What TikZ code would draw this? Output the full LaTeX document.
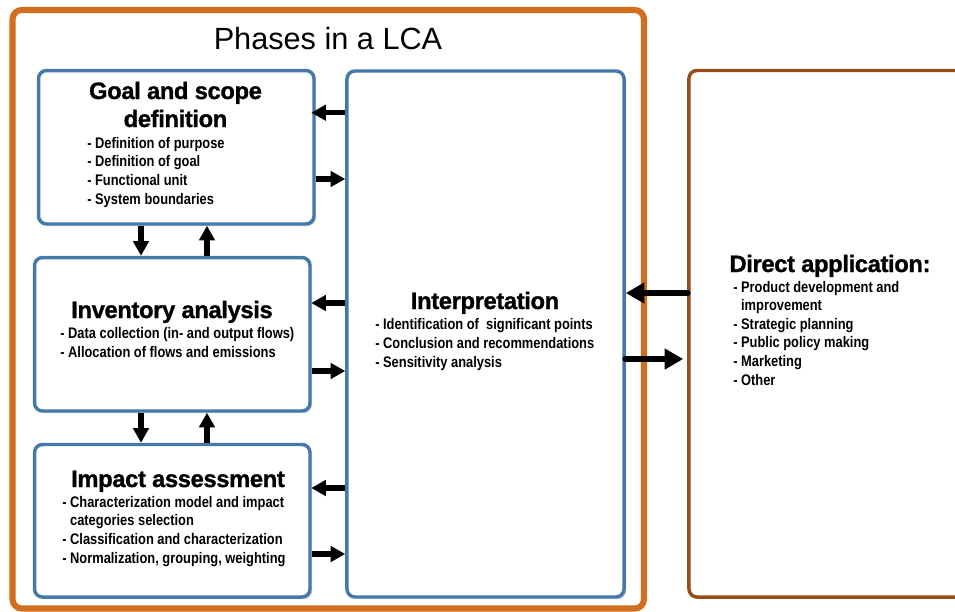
\documentclass[tikz,border=0pt]{standalone}
\usepackage{fontspec}
\setmainfont{Liberation Sans}
\newfontfamily\narrowfont{Liberation Sans}[FakeStretch=0.84]
\newfontfamily\headfont{Liberation Sans}[FakeBold=1.2, LetterSpace=-1.5]
\usetikzlibrary{positioning,arrows.meta,shadows}

\definecolor{lcaorange}{HTML}{D46E1F}
\definecolor{phaseblue}{HTML}{4778AC}
\definecolor{appbrown}{HTML}{984C17}

\tikzset{
  phase/.style={draw=phaseblue, line width=2.6pt, rounded corners=6pt, inner sep=0pt, fill=white,
    drop shadow={shadow xshift=1.6pt, shadow yshift=-1.6pt, fill=black!15, opacity=1}},
  heading/.style={font=\headfont\bfseries\fontsize{17.8}{21}\selectfont, align=center, inner sep=0pt, anchor=base},
  items/.style={font=\narrowfont\bfseries\fontsize{11.5}{13.9}\selectfont, align=left, inner sep=0pt, anchor=base west},
  flow/.style={line width=3.8pt, -{Triangle[length=11pt,width=11.5pt]}},
  bigflow/.style={line width=5.2pt, line cap=round, -{Triangle[length=14pt,width=15pt]}},
}

\begin{document}
\begin{tikzpicture}[x=0.75pt,y=-0.75pt]
\useasboundingbox (0,0) rectangle (955,611);
\clip (0,0) rectangle (955,611);

% frames
\node[draw=lcaorange, line width=4.6pt, rounded corners=7pt, minimum width=473.6pt, minimum height=448.9pt] (lca) at (328.25,309.25) {};
\node[draw=appbrown, line width=2.6pt, rounded corners=6pt, minimum width=233.3pt, minimum height=394.9pt] (app) at (844.5,333.75) {};
\node[font=\fontsize{23}{27}\selectfont, inner sep=0pt, anchor=base] (lcatitle) at (328,49) {Phases in a LCA};

% phase boxes
\node[phase, minimum width=206.6pt, minimum height=115.1pt] (goal) at (176.25,147.25) {};
\node[phase, minimum width=206.6pt, minimum height=115.1pt] (inv) at (172.25,334.25) {};
\node[phase, minimum width=206.6pt, minimum height=114.4pt] (imp) at (172.25,520.75) {};
\node[phase, minimum width=207.8pt, minimum height=394.5pt] (interp) at (485.5,334) {};

% texts (anchored at the baseline of the last line)
\node[heading] (goalhead) at (175.5,127) {Goal and scope\\definition};
\node[items] (goallist) at (87,204) {- Definition of purpose\\- Definition of goal\\- Functional unit\\- System boundaries};
\node[heading] (invhead) at (172,318) {Inventory analysis};
\node[items] (invlist) at (60,357) {- Data collection (in- and output flows)\\- Allocation of flows and emissions};
\node[heading] (imphead) at (178,487) {Impact assessment};
\node[items] (implist) at (62,563) {- Characterization model and impact\\\phantom{- }categories selection\\- Classification and characterization\\- Normalization, grouping, weighting};
\node[heading] (interphead) at (485,309) {Interpretation};
\node[items] (interplist) at (375,367) {- Identification of\ \ significant points\\- Conclusion and recommendations\\- Sensitivity analysis};
\node[heading] (apphead) at (830,272) {Direct application:};
\node[items] (applist) at (733,385) {- Product development and\\\phantom{- }improvement\\- Strategic planning\\- Public policy making\\- Marketing\\- Other};

% arrows
\foreach \y in {112.7,303,488} {
    \draw[flow] (interp.west |- 0,\y) -- +(-34,0);
}
\draw[flow] (goal.east |- 0,179) -- (interp.west |- 0,179);
\draw[flow] (inv.east |- 0,371) -- (interp.west |- 0,371);
\draw[flow] (imp.east |- 0,554) -- (interp.west |- 0,554);
\draw[flow] (goal.south -| 141,0) -- (inv.north -| 141,0);
\draw[flow] (inv.north -| 207,0) -- (goal.south -| 207,0);
\draw[flow] (inv.south -| 141,0) -- (imp.north -| 141,0);
\draw[flow] (imp.north -| 207,0) -- (inv.south -| 207,0);
\draw[bigflow] (app.west |- 0,293) -- (interp.east |- 0,293);
\draw[bigflow] (interp.east |- 0,359) -- ([xshift=-3pt]app.west |- 0,359);
\end{tikzpicture}
\end{document}
